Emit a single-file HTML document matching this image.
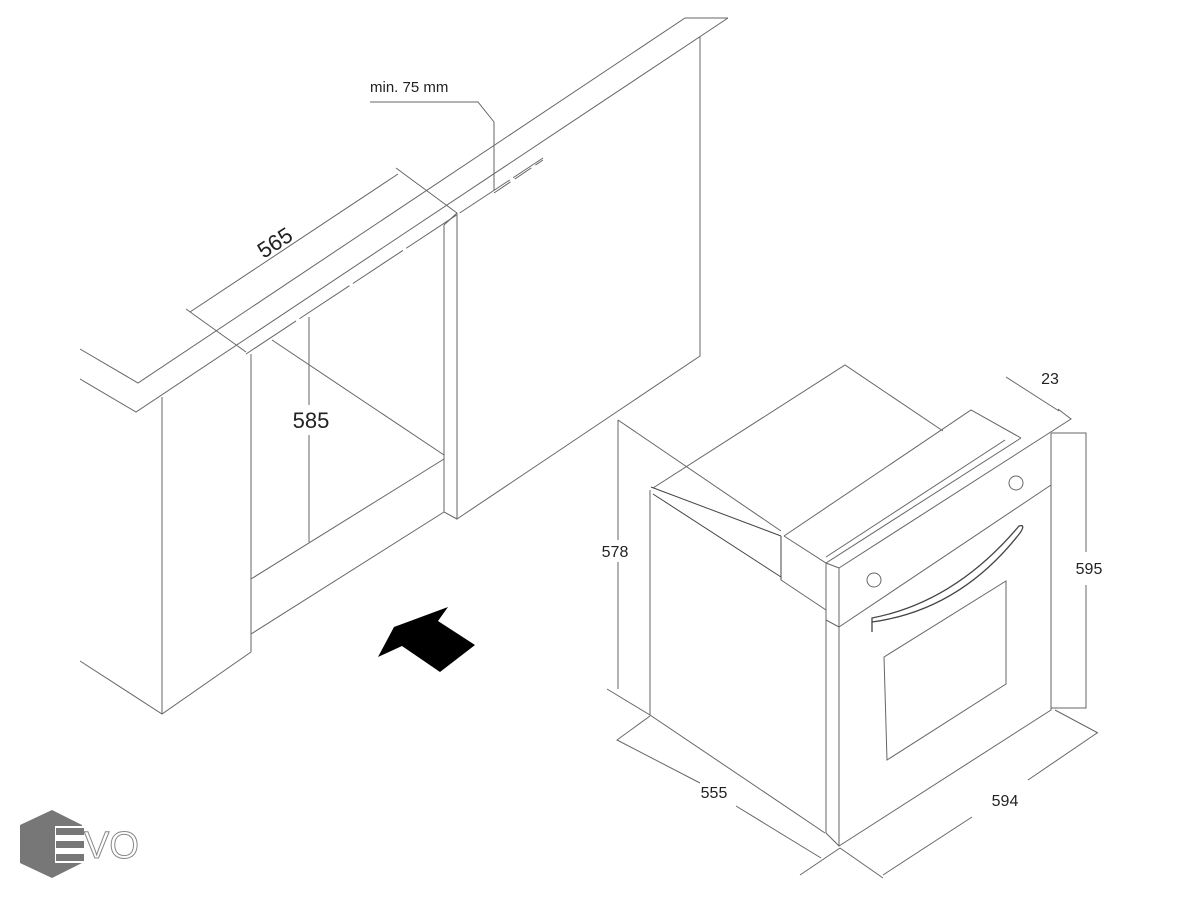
<!DOCTYPE html>
<html><head><meta charset="utf-8"><style>
html,body{margin:0;padding:0;background:#fff}
svg{display:block}
text{font-family:"Liberation Sans",sans-serif;fill:#222}
</style></head><body>
<svg width="1199" height="900" viewBox="0 0 1199 900" xmlns="http://www.w3.org/2000/svg">
<g fill="none" stroke="#666" stroke-width="1">
<!-- countertop -->
<path d="M80,349 L138,383 L685,18 L728,18"/>
<path d="M80,379 L136,412 L728,18"/>
<path d="M246,354 L543,158" stroke-dasharray="60,4"/>
<!-- right panel -->
<path d="M700,37 L700,356 L457,519 L457,213"/>
<path d="M444,225 L444,512 L457,519 M444,225 L457,213"/>
<!-- left cabinet -->
<path d="M251,354 L251,652 M162,397 L162,714 M80,661 L162,714 L251,652"/>
<!-- cavity -->
<path d="M272,340 L444,455 M251,579 L444,459 M251,634 L444,512"/>
<!-- 585 -->
<path d="M309,317 L309,405 M309,435 L309,542"/>
<!-- 565 -->
<path d="M190,312 L398,174 M186,309 L246,352 M396,168 L457,213"/>
<!-- min 75 -->
<path d="M370,102 L478,102 L494,122 L494,190"/>
<path d="M494,193 L543,160" stroke-dasharray="20,5"/>
<!-- oven -->
<path d="M618,420 L618,540 M618,562 L618,689 M618,420 L781,531 M607,689 L650,715"/>
<path d="M653,488 L845,365 L943,431"/>
<path d="M650,490 L650,715 L825,833"/>
<path d="M651,487 L781,536 M653,494 L781,577 M781,536 L781,580" stroke="#444"/>
<path d="M784,536 L971,410 L1021,438 M784,536 L826,563 L1021,438 M826,557 L1005,440"/>
<path d="M839,568 L1071,419 L1058,409 M826,563 L839,568"/>
<path d="M826,563 L826,833 L839,846 M839,568 L839,846 L1051,710 L1051,433"/>
<path d="M839,627 L1051,485"/>
<path d="M781,580 L826,610 M826,620 L839,627"/>
<circle cx="874" cy="580" r="7"/>
<circle cx="1016" cy="483" r="7"/>
<path d="M872,622 Q960,610 1020,533 Q1026,524 1019,526 Q955,602 872,618 L872,632 Z" stroke="#444" stroke-width="1.3"/>
<path d="M884,657 L1006,581 L1006,684 L887,760 Z"/>
<path d="M1051,433 L1086,433 L1086,552 M1086,585 L1086,708 L1051,708"/>
<!-- 555 -->
<path d="M650,716 L617,740 L700,783 M736,806 L821,858 M800,875 L840,848"/>
<!-- 594 -->
<path d="M840,848 L883,878 M883,875 L972,817 M1028,780 L1097,733 M1055,710 L1098,733"/>
<!-- 23 -->
<path d="M1006,377 L1059,411"/>
</g>
<polygon points="378,657 394,627 448,607 438,621 475,645 440,672 402,646" fill="#000"/>
<text x="370" y="92" font-size="15">min. 75 mm</text>
<text x="279" y="249" font-size="22" transform="rotate(-33 279 249)" text-anchor="middle">565</text>
<text x="311" y="428" font-size="22" text-anchor="middle">585</text>
<text x="615" y="557" font-size="16" text-anchor="middle">578</text>
<text x="714" y="798" font-size="16" text-anchor="middle">555</text>
<text x="1005" y="806" font-size="16" text-anchor="middle">594</text>
<text x="1089" y="574" font-size="16" text-anchor="middle">595</text>
<text x="1050" y="384" font-size="16" text-anchor="middle">23</text>
<!-- logo -->
<polygon points="52,810 82,825 82,863 52,878 20,863 20,825" fill="#777"/>
<rect x="55" y="826" width="30" height="37" fill="#fff"/>
<rect x="56" y="828" width="28" height="7" fill="#777"/>
<rect x="56" y="841" width="28" height="7" fill="#777"/>
<rect x="56" y="854" width="28" height="7" fill="#777"/>
<text x="84" y="858" font-size="38" style="fill:none;stroke:#888;stroke-width:1">VO</text>
</svg>
</body></html>
